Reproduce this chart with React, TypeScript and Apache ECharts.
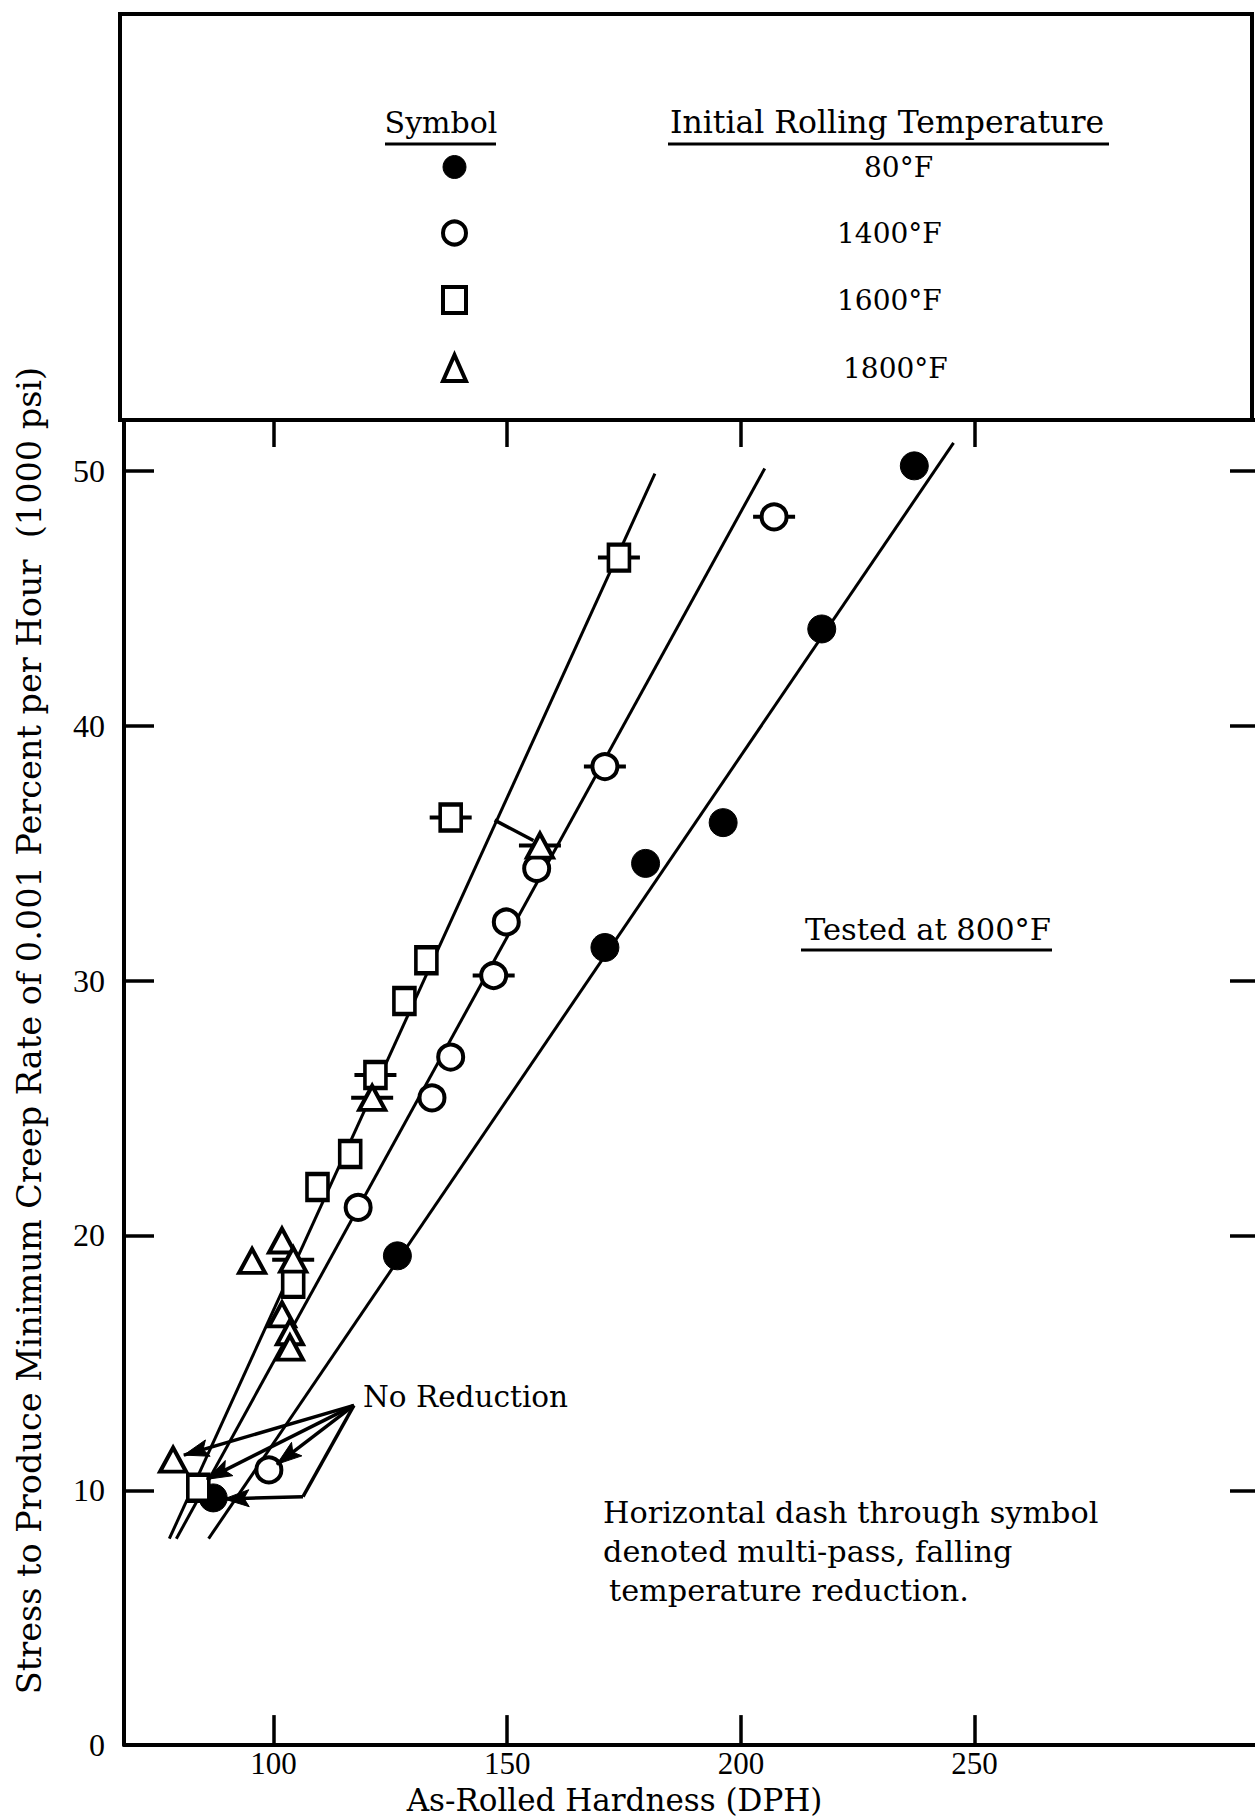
import React, { useEffect, useRef } from "react";
import * as echarts from "echarts";

// ---- axis ticks ----
const X_TICKS = [100, 150, 200, 250];
const Y_TICKS = [0, 10, 20, 30, 40, 50];
const Y_TICKS_RIGHT = [10, 20, 30, 40, 50];

// ---- series (As-Rolled Hardness DPH, Stress 1000 psi) ----
const SERIES_NAMES = ["80°F", "1400°F", "1600°F", "1800°F"];
const PTS_80 = [
  [237.1, 50.2], [217.3, 43.8], [196.2, 36.2], [179.6, 34.6], [170.9, 31.3], [126.5, 19.2], [87.1, 9.7],
];
const PTS_1400 = [
  [207.1, 48.2], [170.9, 38.4], [156.3, 34.4], [149.8, 32.3], [147.1, 30.2], [137.9, 27.0], [133.9, 25.4],
  [118.1, 21.1], [99.0, 10.8],
];
const PTS_1600 = [
  [173.9, 46.6], [137.9, 36.4], [132.7, 30.8], [128.0, 29.2], [121.8, 26.3], [116.4, 23.2], [109.4, 21.9],
  [104.2, 18.1], [83.9, 10.1],
];
const PTS_1800 = [
  [157.0, 35.3], [121.1, 25.4], [95.4, 19.0], [101.8, 19.8], [104.2, 19.05], [101.8, 16.9], [103.5, 16.2],
  [103.5, 15.6], [78.5, 11.2],
];
// points with the horizontal dash (multi-pass, falling temperature reduction)
const MULTI_PASS = [
  [207.1, 48.2], [170.9, 38.4], [147.1, 30.2],
  [173.9, 46.6], [137.9, 36.4], [121.8, 26.3],
  [157.0, 35.3], [121.1, 25.4], [104.2, 19.05],
];
// fitted lines
const FIT_80 = [[86.1, 8.1], [245.5, 51.1]];
const FIT_1400 = [[79.2, 8.1], [205.1, 50.1]];
const FIT_1600 = [[77.7, 8.1], [181.6, 49.9]];

// "No Reduction" pointers
const NR_ORIGIN = [117.2, 13.33];
const NR_CORNER = [106.3, 9.75];
const ARROW_TIPS = [[80.8, 11.38], [85.7, 10.43], [100.7, 11.02], [89.4, 9.66]];
const ARROW_FROM = [NR_ORIGIN, NR_ORIGIN, NR_ORIGIN, NR_CORNER];
const POINTER = [[147.3, 36.3], [155.6, 35.5]];

const TEXT_FONT = "DejaVu Serif";
const NUM_FONT = "Liberation Serif";

export default function App() {
  const ref = useRef<HTMLDivElement>(null);
  useEffect(() => {
    if (!ref.current) return;
    const chart = echarts.init(ref.current, undefined, { renderer: "svg" });
    const black = "#000";
    const axisCommon = {
      type: "value",
      axisLine: { show: true, onZero: false, lineStyle: { color: black, width: 4 } },
      splitLine: { show: false },
    };
    const openStyle = { color: "#fff", borderColor: black, borderWidth: 4, opacity: 1 };
    const legendPads = [393, 366, 366, 372];
    const legendIconStyles = [
      { color: black, borderColor: black, borderWidth: 1, opacity: 1 },
      openStyle,
      openStyle,
      openStyle,
    ];

    const baseGraphic: any[] = [
      { type: "rect", shape: { x: 120, y: 14, width: 1132, height: 406 }, style: { fill: "none", stroke: black, lineWidth: 4 }, z: 0 },
      { type: "text", x: 441, y: 122, style: { text: "Symbol", font: `30px "${TEXT_FONT}"`, fill: black, textAlign: "center", textVerticalAlign: "middle" } },
      { type: "line", shape: { x1: 385, y1: 144, x2: 496, y2: 144 }, style: { stroke: black, lineWidth: 3 } },
      { type: "text", x: 887, y: 122, style: { text: "Initial Rolling Temperature", font: `31.5px "${TEXT_FONT}"`, fill: black, textAlign: "center", textVerticalAlign: "middle" } },
      { type: "line", shape: { x1: 668, y1: 144, x2: 1109, y2: 144 }, style: { stroke: black, lineWidth: 3 } },
      { type: "text", x: 928, y: 929, style: { text: "Tested at 800°F", font: `30.5px "${TEXT_FONT}"`, fill: black, textAlign: "center", textVerticalAlign: "middle" } },
      { type: "line", shape: { x1: 801, y1: 950, x2: 1052, y2: 950 }, style: { stroke: black, lineWidth: 3 } },
      { type: "text", x: 363, y: 1397, style: { text: "No Reduction", font: `29.5px "${TEXT_FONT}"`, fill: black, textAlign: "left", textVerticalAlign: "middle" } },
      { type: "text", x: 603, y: 1512, style: { text: "Horizontal dash through symbol", font: `30.3px "${TEXT_FONT}"`, fill: black, textAlign: "left", textVerticalAlign: "middle" } },
      { type: "text", x: 603, y: 1551, style: { text: "denoted multi-pass, falling", font: `30.3px "${TEXT_FONT}"`, fill: black, textAlign: "left", textVerticalAlign: "middle" } },
      { type: "text", x: 609, y: 1590, style: { text: "temperature reduction.", font: `30.3px "${TEXT_FONT}"`, fill: black, textAlign: "left", textVerticalAlign: "middle" } },
    ];

    const option: any = {
      animation: false,
      backgroundColor: "#fff",
      grid: { left: 124, top: 420, right: 0, bottom: 70 },
      legend: {
        orient: "vertical",
        left: 441,
        top: 153,
        padding: 0,
        itemWidth: 23,
        itemHeight: 26,
        itemGap: 38,
        selectedMode: false,
        data: SERIES_NAMES.map((n, i) => ({
          name: n,
          itemStyle: legendIconStyles[i],
          textStyle: {
            fontFamily: TEXT_FONT,
            fontSize: 28,
            color: black,
            padding: [0, 0, 0, legendPads[i]],
          },
        })),
        textStyle: { fontFamily: TEXT_FONT, fontSize: 28, color: black },
      },
      xAxis: [
        {
          ...axisCommon,
          min: 68,
          max: 310,
          position: "bottom",
          axisTick: { show: true, inside: true, length: 30, customValues: X_TICKS, lineStyle: { color: black, width: 3.5 } },
          axisLabel: { customValues: X_TICKS, color: black, fontFamily: NUM_FONT, fontSize: 31, margin: 3 },
          name: "As-Rolled Hardness (DPH)",
          nameLocation: "middle",
          nameGap: 36,
          nameTextStyle: { fontFamily: TEXT_FONT, fontSize: 31, color: black, padding: [0, 150, 0, 0] },
        },
        {
          ...axisCommon,
          min: 68,
          max: 310,
          position: "top",
          axisTick: { show: true, inside: true, length: 27, customValues: X_TICKS, lineStyle: { color: black, width: 3.5 } },
          axisLabel: { show: false },
        },
      ],
      yAxis: [
        {
          ...axisCommon,
          min: 0,
          max: 52,
          position: "left",
          axisTick: { show: true, inside: true, length: 30, customValues: Y_TICKS, lineStyle: { color: black, width: 3.5 } },
          axisLabel: { customValues: Y_TICKS, color: black, fontFamily: NUM_FONT, fontSize: 32, margin: 19 },
          name: "Stress to Produce Minimum Creep Rate of 0.001 Percent per Hour  (1000 psi)",
          nameLocation: "middle",
          nameGap: 78,
          nameRotate: 90,
          nameTextStyle: { fontFamily: TEXT_FONT, fontSize: 33.5, color: black, padding: [0, 0, 0, 104] },
        },
        {
          ...axisCommon,
          min: 0,
          max: 52,
          position: "right",
          axisLine: { show: false },
          axisTick: { show: true, inside: true, length: 25, customValues: Y_TICKS_RIGHT, lineStyle: { color: black, width: 3.5 } },
          axisLabel: { show: false },
        },
      ],
      series: [
        { type: "line", name: "fit 80", data: FIT_80, showSymbol: false, silent: true, z: 1, lineStyle: { color: black, width: 3 } },
        { type: "line", name: "fit 1400", data: FIT_1400, showSymbol: false, silent: true, z: 1, lineStyle: { color: black, width: 3 } },
        { type: "line", name: "fit 1600", data: FIT_1600, showSymbol: false, silent: true, z: 1, lineStyle: { color: black, width: 3 } },
        {
          type: "scatter",
          name: "multi-pass",
          data: MULTI_PASS,
          symbol: "rect",
          symbolSize: [42, 4],
          z: 2,
          itemStyle: { color: black, opacity: 1 },
        },
        {
          type: "scatter",
          name: SERIES_NAMES[0],
          data: PTS_80,
          symbol: "circle",
          symbolSize: 28,
          z: 3,
          itemStyle: legendIconStyles[0],
        },
        {
          type: "scatter",
          name: SERIES_NAMES[1],
          data: PTS_1400,
          symbol: "circle",
          symbolSize: 25,
          z: 3,
          itemStyle: openStyle,
        },
        {
          type: "scatter",
          name: SERIES_NAMES[2],
          data: PTS_1600,
          symbol: "rect",
          symbolSize: [21, 26],
          z: 3,
          itemStyle: openStyle,
        },
        {
          type: "scatter",
          name: SERIES_NAMES[3],
          data: PTS_1800,
          symbol: "triangle",
          symbolSize: [26, 24],
          z: 3,
          itemStyle: openStyle,
        },
        {
          type: "line",
          name: "annotations",
          data: [],
          z: 4,
          silent: true,
          markLine: {
            silent: true,
            animation: false,
            symbol: ["none", "none"],
            label: { show: false },
            lineStyle: { type: "solid", color: black, width: 3.5 },
            data: [
              ...ARROW_TIPS.map((t, i) => [{ coord: ARROW_FROM[i] }, { coord: t }]),
              [{ coord: NR_ORIGIN }, { coord: NR_CORNER }],
              [{ coord: POINTER[0] }, { coord: POINTER[1] }],
            ],
          },
        },
      ],
      graphic: baseGraphic,
    };
    chart.setOption(option);

    // arrow heads: filled, slightly notched triangles placed through the chart's own scales
    const L = 25;
    const W = 8.5;
    const N = 20;
    const heads: any[] = [];
    ARROW_TIPS.forEach((tip, i) => {
      const a = chart.convertToPixel({ xAxisIndex: 0, yAxisIndex: 0 }, ARROW_FROM[i]) as number[];
      const b = chart.convertToPixel({ xAxisIndex: 0, yAxisIndex: 0 }, tip) as number[];
      if (!a || !b) return;
      const dx = b[0] - a[0];
      const dy = b[1] - a[1];
      const len = Math.hypot(dx, dy) || 1;
      const ux = dx / len;
      const uy = dy / len;
      const nx = -uy;
      const ny = ux;
      const pts = [
        [b[0], b[1]],
        [b[0] - L * ux + W * nx, b[1] - L * uy + W * ny],
        [b[0] - N * ux, b[1] - N * uy],
        [b[0] - L * ux - W * nx, b[1] - L * uy - W * ny],
      ];
      heads.push({
        type: "polygon",
        z: 20,
        silent: true,
        shape: { points: pts },
        style: { fill: black, stroke: black, lineWidth: 1 },
      });
    });
    chart.setOption({ graphic: [...baseGraphic, ...heads] });

    return () => chart.dispose();
  }, []);
  return (
    <div
      ref={ref}
      style={{ position: "absolute", left: 0, top: 0, width: 1255, height: 1820, background: "#fff" }}
    />
  );
}
